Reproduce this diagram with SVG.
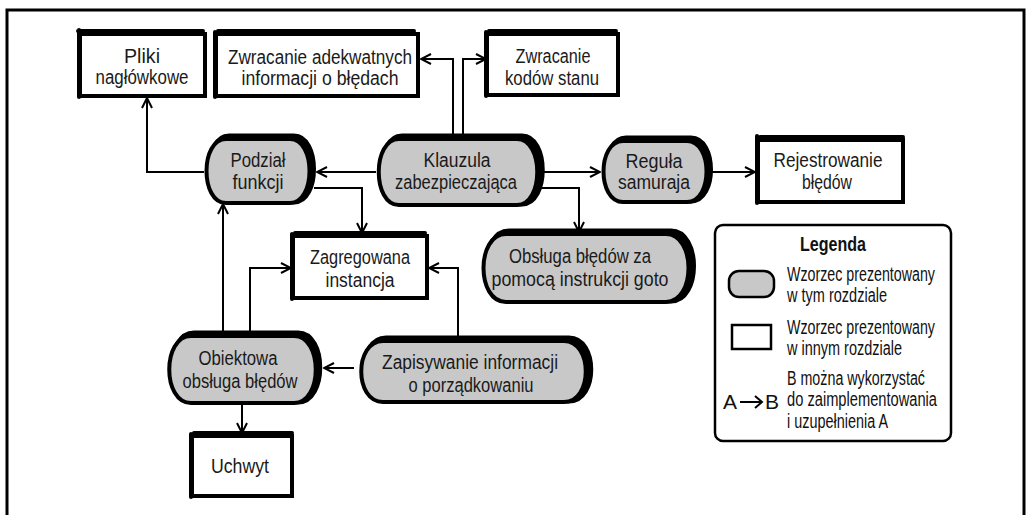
<svg xmlns="http://www.w3.org/2000/svg" width="1026" height="515" viewBox="0 0 1026 515">
<style>
.frame{fill:none;stroke:#000;stroke-width:3}
.box{fill:#fff;stroke:#000;stroke-width:4}
.bar{fill:none;stroke:#000;stroke-width:4;stroke-linecap:round}
.blobSh{fill:#000;stroke:#000;stroke-width:5}
.blob{fill:#c8c8c8;stroke:#000;stroke-width:4}
.t{font-family:"Liberation Sans",Arial,sans-serif;font-size:20px;fill:#1a1a1a;text-anchor:middle}
.lg{font-family:"Liberation Sans",Arial,sans-serif;font-size:20px;fill:#111}
.lgb{font-family:"Liberation Sans",Arial,sans-serif;font-size:21px;font-weight:bold;fill:#111;text-anchor:middle}
.c{fill:none;stroke:#000;stroke-width:2;marker-end:url(#ah)}
.legbox{fill:#fff;stroke:#000;stroke-width:2.5}
</style>
<defs>
<marker id="ah" viewBox="0 0 12 12" refX="11" refY="6" markerWidth="12" markerHeight="12" markerUnits="userSpaceOnUse" orient="auto">
<path d="M1,1 L11,6 L1,11" fill="none" stroke="#000" stroke-width="2"/>
</marker>
</defs>
<rect width="1026" height="515" fill="#fff"/>
<path class="frame" d="M7,515 V10 H1024 V515"/>

<g id="connectors">
<path class="c" d="M453,138 V59 H421"/>
<path class="c" d="M463,138 V59 H486"/>
<path class="c" d="M376,172 H317"/>
<path class="c" d="M543,172 H600"/>
<path class="c" d="M540,188 H579 V232"/>
<path class="c" d="M712,172 H755"/>
<path class="c" d="M204,172 H147 V98"/>
<path class="c" d="M314,188 H362 V233"/>
<path class="c" d="M223,336 V204"/>
<path class="c" d="M250,336 V268 H291"/>
<path class="c" d="M458,341 V268 H429"/>
<path class="c" d="M354,368 H324"/>
<path class="c" d="M242,403 V433"/>
</g>

<g id="pliki">
<rect class="box" x="80" y="34" width="125" height="62"/>
<path class="bar" d="M78,31 H203 M79,30 V97"/>
<text class="t" x="142" y="63" textLength="36" lengthAdjust="spacingAndGlyphs">Pliki</text>
<text class="t" x="142" y="84" textLength="93" lengthAdjust="spacingAndGlyphs">nagłówkowe</text>
</g>

<g id="zwracanie-info">
<rect class="box" x="216" y="34" width="202" height="62"/>
<path class="bar" d="M218,31 H414 M215,32 V97"/>
<text class="t" x="320" y="64" textLength="184" lengthAdjust="spacingAndGlyphs">Zwracanie adekwatnych</text>
<text class="t" x="320" y="85" textLength="157" lengthAdjust="spacingAndGlyphs">informacji o błędach</text>
</g>

<g id="zwracanie-kodow">
<rect class="box" x="487" y="34" width="131" height="61"/>
<path class="bar" d="M489,31 H616 M486,32 V96"/>
<text class="t" x="553" y="63" textLength="75" lengthAdjust="spacingAndGlyphs">Zwracanie</text>
<text class="t" x="552" y="85" textLength="94" lengthAdjust="spacingAndGlyphs">kodów stanu</text>
</g>

<g id="klauzula">
<path class="blobSh" d="M402,136 H522 C549,136 549,204 522,204 H402 C375,204 375,136 402,136 Z"/>
<path class="blob" d="M399,139 H517 C544,139 544,205 517,205 H399 C372,205 372,139 399,139 Z"/>
<text class="t" x="457" y="167" textLength="67" lengthAdjust="spacingAndGlyphs">Klauzula</text>
<text class="t" x="456" y="189" textLength="122" lengthAdjust="spacingAndGlyphs">zabezpieczająca</text>
</g>

<g id="podzial">
<path class="blobSh" d="M229,136 H294 C320,136 320,202 294,202 H229 C203,202 203,136 229,136 Z"/>
<path class="blob" d="M226,139 H290 C316,139 316,203 290,203 H226 C200,203 200,139 226,139 Z"/>
<text class="t" x="258" y="167" textLength="55" lengthAdjust="spacingAndGlyphs">Podział</text>
<text class="t" x="258" y="189" textLength="51" lengthAdjust="spacingAndGlyphs">funkcji</text>
</g>

<g id="regula">
<path class="blobSh" d="M626,138 H691 C717,138 717,201 691,201 H626 C600,201 600,138 626,138 Z"/>
<path class="blob" d="M623,141 H687 C713,141 713,202 687,202 H623 C597,202 597,141 623,141 Z"/>
<text class="t" x="654" y="168" textLength="57" lengthAdjust="spacingAndGlyphs">Reguła</text>
<text class="t" x="654" y="189" textLength="72" lengthAdjust="spacingAndGlyphs">samuraja</text>
</g>

<g id="rejestrowanie">
<rect class="box" x="758" y="140" width="145" height="62"/>
<path class="bar" d="M760,137 H903 M757,136 V203"/>
<text class="t" x="828" y="167" textLength="109" lengthAdjust="spacingAndGlyphs">Rejestrowanie</text>
<text class="t" x="827" y="189" textLength="50" lengthAdjust="spacingAndGlyphs">błędów</text>
</g>

<g id="zagregowana">
<rect class="box" x="293" y="236" width="134" height="62"/>
<path class="bar" d="M295,233 H425 M292,234 V299"/>
<text class="t" x="360" y="264" textLength="100" lengthAdjust="spacingAndGlyphs">Zagregowana</text>
<text class="t" x="360" y="287" textLength="69" lengthAdjust="spacingAndGlyphs">instancja</text>
</g>

<g id="goto">
<path class="blobSh" d="M509,231 H671 C701,231 701,301 671,301 H509 C479,301 479,231 509,231 Z"/>
<path class="blob" d="M506,234 H666 C696,234 696,302 666,302 H506 C476,302 476,234 506,234 Z"/>
<text class="t" x="580" y="263" textLength="142" lengthAdjust="spacingAndGlyphs">Obsługa błędów za</text>
<text class="t" x="580" y="286" textLength="177" lengthAdjust="spacingAndGlyphs">pomocą instrukcji goto</text>
</g>

<g id="obiektowa">
<path class="blobSh" d="M194,333 H298 C327,333 327,402 298,402 H194 C165,402 165,333 194,333 Z"/>
<path class="blob" d="M191,336 H294 C323,336 323,403 294,403 H191 C162,403 162,336 191,336 Z"/>
<text class="t" x="238" y="365" textLength="79" lengthAdjust="spacingAndGlyphs">Obiektowa</text>
<text class="t" x="240" y="388" textLength="115" lengthAdjust="spacingAndGlyphs">obsługa błędów</text>
</g>

<g id="zapisywanie">
<path class="blobSh" d="M386,338 H569 C598,338 598,401 569,401 H386 C357,401 357,338 386,338 Z"/>
<path class="blob" d="M383,341 H564 C593,341 593,402 564,402 H383 C354,402 354,341 383,341 Z"/>
<text class="t" x="470" y="369" textLength="176" lengthAdjust="spacingAndGlyphs">Zapisywanie informacji</text>
<text class="t" x="471" y="392" textLength="125" lengthAdjust="spacingAndGlyphs">o porządkowaniu</text>
</g>

<g id="uchwyt">
<rect class="box" x="192" y="436" width="100" height="60"/>
<path class="bar" d="M194,433 H292 M191,434 V497"/>
<text class="t" x="240" y="473" textLength="58" lengthAdjust="spacingAndGlyphs">Uchwyt</text>
</g>

<g id="legenda">
<rect class="legbox" x="715" y="225" width="236" height="216" rx="8"/>
<text class="lgb" x="833" y="251" textLength="66" lengthAdjust="spacingAndGlyphs">Legenda</text>
<rect x="729" y="271" width="45" height="26" rx="10" fill="#c8c8c8" stroke="#000" stroke-width="2.5"/>
<text class="lg" x="787" y="281" textLength="148" lengthAdjust="spacingAndGlyphs">Wzorzec prezentowany</text>
<text class="lg" x="787" y="302" textLength="100" lengthAdjust="spacingAndGlyphs">w tym rozdziale</text>
<rect x="732" y="325" width="39" height="24" fill="#fff" stroke="#000" stroke-width="2.5"/>
<text class="lg" x="787" y="334" textLength="148" lengthAdjust="spacingAndGlyphs">Wzorzec prezentowany</text>
<text class="lg" x="787" y="355" textLength="115" lengthAdjust="spacingAndGlyphs">w innym rozdziale</text>
<text class="lg" x="787" y="385" textLength="138" lengthAdjust="spacingAndGlyphs">B można wykorzystać</text>
<text class="lg" x="787" y="406" textLength="150" lengthAdjust="spacingAndGlyphs">do zaimplementowania</text>
<text class="lg" x="787" y="428" textLength="101" lengthAdjust="spacingAndGlyphs">i uzupełnienia A</text>
<text class="lg" x="723" y="409" style="font-size:21px">A</text>
<path d="M740,402 H762 M755,396 L762,402 L755,408" fill="none" stroke="#000" stroke-width="2"/>
<text class="lg" x="765" y="409" style="font-size:21px">B</text>
</g>
</svg>
